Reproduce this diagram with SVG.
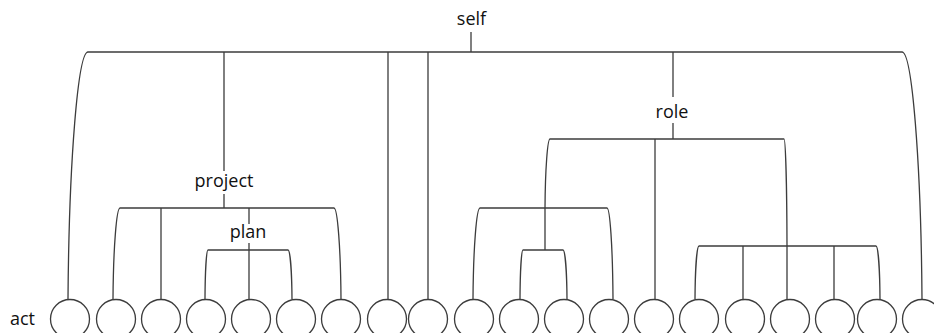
<svg xmlns="http://www.w3.org/2000/svg" width="934" height="333" viewBox="0 0 934 333">
  <style>
    .edge { fill: none; stroke: #3c3c3c; stroke-width: 1.3; }
    .leaf { fill: #ffffff; stroke: #3c3c3c; stroke-width: 1.3; }
    .label { font-family: "Open Sans", "Noto Sans", "Liberation Sans", sans-serif; font-size: 18px; fill: #111111; text-anchor: middle; }
  </style>
  <rect width="934" height="333" fill="#ffffff"/>

  <!-- connectors: brackets with rounded outer legs, plus straight stems -->
  <g id="connectors" class="edge">
    <path d="M68,299 C69,160.7 78,52 88,52 L902,52 C912,52 921,160.7 922,299"/>
    <path d="M113,299 C113.35,248 116.5,208 120,208 L334,208 C337.5,208 340.65,248 341,299"/>
    <path d="M205,299 C205.15,271.6 206.5,250 208,250 L288,250 C290,250 291.8,271.6 292,299"/>
    <path d="M545,250 L545,208 C545.25,169.4 547.5,139 550,139 L784,139 C785.5,139 786.85,186 787,246 L787,299"/>
    <path d="M473,299 C473.35,248 476.5,208 480,208 L607,208 C610,208 612.7,248 613,299"/>
    <path d="M520,299 C520.15,271.6 521.5,250 523,250 L563,250 C565,250 566.8,271.6 567,299"/>
    <path d="M695,299 C695.2,269.3 697,246 699,246 L876,246 C878,246 879.8,269.3 880,299"/>
    <path d="M471,32 V52"/>
    <path d="M224,52 V171 M224,194 V208"/>
    <path d="M388,52 V299 M428,52 V299"/>
    <path d="M673,52 V97 M673,123 V139"/>
    <path d="M161,208 V299"/>
    <path d="M249,208 V224 M249,243 V299"/>
    <path d="M655,139 V299"/>
    <path d="M743,246 V299 M834,246 V299"/>
  </g>

  <g id="self"><text class="label" x="471.5" y="25">self</text></g>
  <g id="project"><text class="label" x="224" y="186.5">project</text></g>
  <g id="plan"><text class="label" x="248" y="237.5">plan</text></g>
  <g id="role"><text class="label" x="672" y="118">role</text></g>

  <g id="act">
    <text class="label" x="22.5" y="325">act</text>
    <circle class="leaf" cx="70" cy="319" r="19.5"/>
    <circle class="leaf" cx="116" cy="319" r="19.5"/>
    <circle class="leaf" cx="161" cy="319" r="19.5"/>
    <circle class="leaf" cx="206" cy="319" r="19.5"/>
    <circle class="leaf" cx="251" cy="319" r="19.5"/>
    <circle class="leaf" cx="296" cy="319" r="19.5"/>
    <circle class="leaf" cx="341" cy="319" r="19.5"/>
    <circle class="leaf" cx="387" cy="319" r="19.5"/>
    <circle class="leaf" cx="428" cy="319" r="19.5"/>
    <circle class="leaf" cx="474" cy="319" r="19.5"/>
    <circle class="leaf" cx="519" cy="319" r="19.5"/>
    <circle class="leaf" cx="564" cy="319" r="19.5"/>
    <circle class="leaf" cx="609" cy="319" r="19.5"/>
    <circle class="leaf" cx="654" cy="319" r="19.5"/>
    <circle class="leaf" cx="699" cy="319" r="19.5"/>
    <circle class="leaf" cx="745" cy="319" r="19.5"/>
    <circle class="leaf" cx="790" cy="319" r="19.5"/>
    <circle class="leaf" cx="835" cy="319" r="19.5"/>
    <circle class="leaf" cx="877" cy="319" r="19.5"/>
    <circle class="leaf" cx="922" cy="319" r="19.5"/>
  </g>
</svg>
